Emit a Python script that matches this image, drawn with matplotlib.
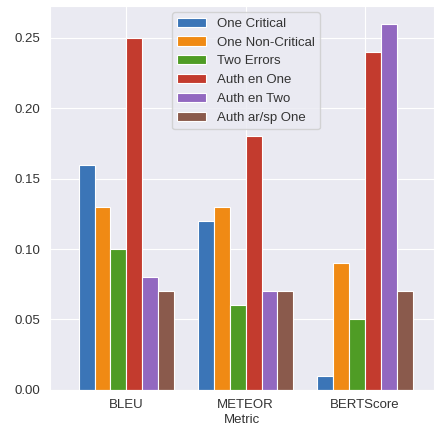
import matplotlib.pyplot as plt
import numpy as np
import seaborn as sns

sns.set_style("darkgrid")
plt.rcParams["font.family"] = ["Liberation Sans", "DejaVu Sans"]

metrics = ["BLEU", "METEOR", "BERTScore"]
series = ["One Critical", "One Non-Critical", "Two Errors",
          "Auth en One", "Auth en Two", "Auth ar/sp One"]
values = [
    [0.16, 0.12, 0.01],
    [0.13, 0.13, 0.09],
    [0.10, 0.06, 0.05],
    [0.25, 0.18, 0.24],
    [0.08, 0.07, 0.26],
    [0.07, 0.07, 0.07],
]
colors = ["#3b75b7", "#f08a14", "#4f9c25", "#c33b2e", "#9268c0", "#8a5a4c"]

fig, ax = plt.subplots(figsize=(4.35, 4.33), dpi=100)
x = np.arange(len(metrics))
w = 0.8 / len(series)
for i, (name, vals) in enumerate(zip(series, values)):
    ax.bar(x - 0.4 + w * (i + 0.5), vals, width=w, color=colors[i],
           edgecolor="white", linewidth=0.8, label=name)

ax.set_xticks(x)
ax.set_xticklabels(metrics, fontsize=9.5, color="#333333")
ax.tick_params(axis="y", labelsize=9.5, labelcolor="#333333")
ax.set_xlabel("Metric", fontsize=9.5, labelpad=2, color="#333333")
ax.set_xlim(-0.64, 2.58)
ax.set_ylim(0, 0.273)
leg = ax.legend(loc="upper center", fontsize=9.5, handlelength=2.2,
                bbox_to_anchor=(0.51, 1.0))
for t in leg.get_texts():
    t.set_color("#333333")

fig.subplots_adjust(left=0.115, right=0.998, top=0.987, bottom=0.1)
fig.savefig("out.png")
